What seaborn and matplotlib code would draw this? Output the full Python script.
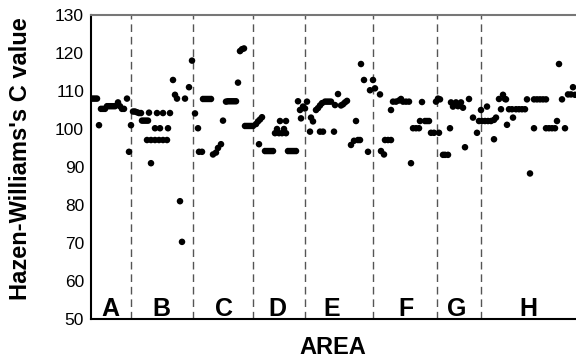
import matplotlib
matplotlib.use("Agg")
import matplotlib.pyplot as plt
import seaborn as sns
import pandas as pd

# ---- data: position along the pipe sequence and Hazen-Williams C value ----
a_pos = [0, 2, 4, 6, 8, 10, 12, 14, 16, 18, 20, 22, 24, 27, 29, 31, 33, 36, 38, 40]
a_c = [108, 108, 108, 108, 101, 105.3, 105.3, 105.3, 106, 106, 106, 106, 106, 107, 106,
       105.3, 105.3, 108, 94, 101]

b_pos = [42, 44, 46, 48, 50, 51, 53, 55, 57, 58, 66, 72, 79, 64, 69, 77,
         56, 60, 64, 68, 72, 76, 60, 82, 84, 86, 94, 89, 91, 98, 101]
b_c = [104.6, 104.6, 104.4, 104.2, 104.2, 102.2, 102.2, 102.2, 102.2, 104.3, 104.2, 104.2,
       104.2, 100.2, 100.2, 100.2, 97.1, 97.1, 97.1, 97.1, 97.1, 97.1, 91, 112.9, 109, 108,
       108, 81, 70.3, 111, 118]

c_pos = [104, 107, 108, 111, 112, 114, 116, 118, 120, 122, 125, 127, 130, 132,
         135, 137, 139, 141, 143, 145, 147, 149, 151, 153]
c_c = [104.1, 100.2, 94, 94, 107.9, 107.9, 107.9, 107.9, 107.9, 93.3, 93.8, 95, 96, 102.2,
       107.2, 107.3, 107.3, 107.3, 107.3, 107.3, 112.2, 120.5, 121, 121.2]

d_pos = [154, 156, 158, 160, 162, 165, 167, 169, 171, 168, 174, 176, 178, 180, 182,
         189, 195, 186, 184, 188, 193, 191, 195, 197, 199, 201, 203, 205,
         207, 209, 210, 212, 214, 216]
d_c = [100.8, 100.8, 100.8, 100.8, 100.8, 101.3, 102, 102.5, 103.1, 96, 94.2, 94.2, 94.2,
       94.2, 94.2, 102.1, 102.1, 100, 98.9, 98.9, 100, 98.9, 98.9, 94.2, 94.2, 94.2, 94.2,
       94.2, 107.3, 105, 102.8, 105.9, 105.4, 107.2]

e_pos = [219, 220, 222, 229, 232, 243, 225, 227, 229, 231, 234, 236, 238, 240, 244, 247,
         250, 252, 254, 256, 265, 260, 263, 267, 269, 277, 270, 273, 279]
e_c = [99.3, 103, 102, 99.3, 99.3, 99.3, 105, 105.5, 106.2, 106.8, 107.2, 107.2, 107.2,
       107.2, 106.3, 109.2, 106.2, 106.5, 107, 107.4, 102.1, 95.8, 96.9, 97.1, 97.1, 94,
       117.1, 112.9, 110.2]

f_pos = [282, 284, 289, 290, 293, 294, 297, 300, 300, 302, 305, 308, 310, 312, 315, 318,
         320, 322, 325, 328, 329, 334, 336, 338, 331, 340, 343, 345, 347]
f_c = [112.9, 110.7, 109.1, 94.2, 93.3, 97.1, 97.1, 97.1, 105, 107.2, 107.2, 107.5, 107.9,
       107.2, 107.2, 107.2, 91, 100.2, 100.2, 100.2, 102.1, 102.1, 102.1, 102.1, 107.1, 99,
       99, 107.2, 108]

g_pos = [348, 349, 352, 354, 357, 359, 360, 362, 365, 367, 370, 372, 374, 378, 382, 386]
g_c = [99, 107.8, 93.2, 93.2, 93.2, 100.2, 107, 105.9, 107, 106, 107, 105.6, 95.2, 107.9,
       103, 99]

h_pos = [388, 390, 391, 394, 397, 400, 403, 405, 396, 403, 408, 410, 412, 414, 416,
         418, 421, 425, 428, 431, 434, 422, 415, 436, 443, 446, 449, 452, 455,
         443, 455, 458, 461, 464, 466, 474, 468, 471, 477, 480, 482, 484, 439]
h_c = [102.1, 105, 102.1, 102.1, 102.1, 102.1, 102.4, 103, 105.9, 97.3, 107.9, 105.2, 109,
       107.9, 101.1, 105.2, 105.2, 105.2, 105.2, 105.2, 105.2, 103, 107.8, 107.8, 107.8,
       107.8, 107.8, 107.8, 107.8, 100.2, 100.2, 100.2, 100.2, 100.2, 102.1, 100.2, 117.1,
       107.8, 109.1, 109.1, 111, 109, 88.3]

area_names = ["A", "B", "C", "D", "E", "F", "G", "H"]
area_label_pos = [19, 70.5, 132.5, 186, 241, 315, 366, 437]
area_boundaries = [39.7, 102.3, 162.3, 214, 282.3, 346.3, 390]

y_ticks = [50, 60, 70, 80, 90, 100, 110, 120, 130]
y_inner_ticks = [60, 80, 100, 120]

# ---- build table ----
frames = []
for name, p, c in zip(area_names,
                      [a_pos, b_pos, c_pos, d_pos, e_pos, f_pos, g_pos, h_pos],
                      [a_c, b_c, c_c, d_c, e_c, f_c, g_c, h_c]):
    frames.append(pd.DataFrame({"pos": p, "C": c, "area": name}))
df = pd.concat(frames, ignore_index=True)

sns.set_style("white")
plt.rcParams["font.family"] = ["Liberation Sans", "DejaVu Sans"]
plt.rcParams["text.color"] = "black"
plt.rcParams["axes.labelcolor"] = "black"
plt.rcParams["ytick.color"] = "black"
plt.rcParams["xtick.color"] = "black"

fig = plt.figure(figsize=(5.76, 3.61), dpi=100)
ax = fig.add_axes([91 / 576, 1 - 319 / 361, 485 / 576, 304 / 361])

sns.scatterplot(data=df, x="pos", y="C", color="black", s=22, edgecolor="none",
                ax=ax, legend=False, clip_on=True, zorder=3)

for b in area_boundaries:
    ax.axvline(b, color="#555555", lw=1.0, dashes=(5.5, 3.5), zorder=1)

for name, xp in zip(area_names, area_label_pos):
    ax.text(xp, 50.9, name, ha="center", va="baseline", fontsize=18,
            fontweight="bold", color="black")

ax.set_xlim(0, 485)
ax.set_ylim(50, 130)
ax.set_xticks([])
ax.set_yticks(y_ticks)
ax.tick_params(axis="y", which="major", length=0, labelsize=12.5, pad=5, labelcolor="black")
ax.set_yticks(y_inner_ticks, minor=True)
ax.tick_params(axis="y", which="minor", direction="in", length=8, width=1.2, color="black")

ax.set_ylabel("Hazen-Williams's C value", fontsize=17, fontweight="bold", color="black")
ax.yaxis.set_label_coords(-0.122, 0.528)
ax.set_xlabel("AREA", fontsize=17, fontweight="bold", color="black")
ax.xaxis.set_label_coords(0.499, -0.055)

for side in ["left", "bottom"]:
    ax.spines[side].set_color("black")
    ax.spines[side].set_linewidth(1.5)
ax.spines["top"].set_color("#777777")
ax.spines["top"].set_linewidth(1.5)
ax.spines["right"].set_visible(False)

fig.savefig("out.png", dpi=100)
